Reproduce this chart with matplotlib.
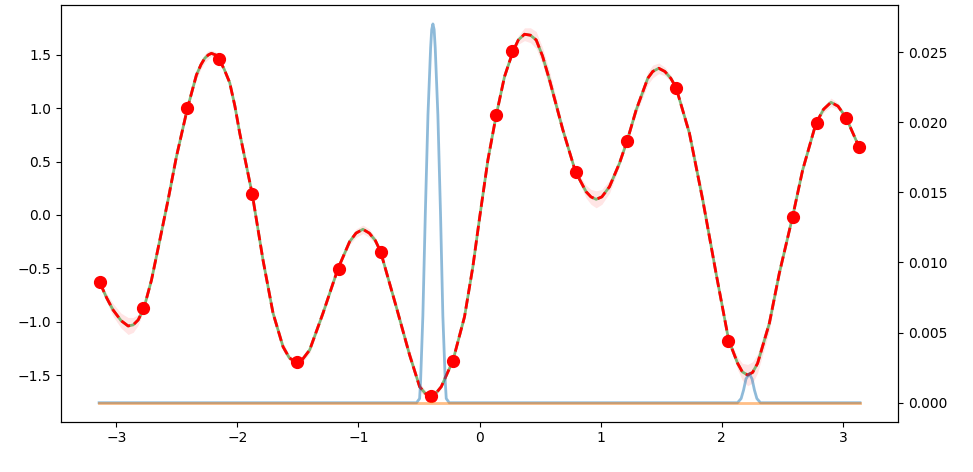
import numpy as np
import matplotlib
matplotlib.use('Agg')
import matplotlib.pyplot as plt

# observed samples
obs_x = [-3.135, -2.778, -2.412, -2.153, -1.876, -1.504, -1.163, -0.817, -0.404, -0.217,
         0.140, 0.270, 0.795, 1.221, 1.623, 2.052, 2.588, 2.786, 3.025, 3.133]
obs_y = [-0.631, -0.875, 1.000, 1.459, 0.194, -1.381, -0.506, -0.344, -1.694, -1.368,
         0.937, 1.534, 0.403, 0.696, 1.187, -1.178, -0.016, 0.862, 0.912, 0.634]

# posterior mean and band half width
mean_x = [-3.135, -3.080, -3.026, -2.960, -2.902, -2.860, -2.819, -2.772, -2.709, -2.640,
          -2.572, -2.503, -2.412, -2.338, -2.300, -2.269, -2.240, -2.214, -2.180, -2.151,
          -2.110, -2.063, -2.020, -1.980, -1.876, -1.788, -1.705, -1.623, -1.570, -1.512,
          -1.460, -1.403, -1.293, -1.169, -1.073, -1.020, -0.963, -0.910, -0.860, -0.817,
          -0.688, -0.578, -0.495, -0.450, -0.404, -0.360, -0.316, -0.220, -0.124, -0.055,
          0.000, 0.069, 0.138, 0.206, 0.275, 0.320, 0.371, 0.420, 0.468, 0.520,
          0.578, 0.688, 0.792, 0.880, 0.920, 0.963, 1.010, 1.073, 1.155, 1.219,
          1.293, 1.389, 1.430, 1.480, 1.530, 1.580, 1.623, 1.733, 1.843, 1.953,
          2.057, 2.131, 2.170, 2.214, 2.255, 2.296, 2.393, 2.475, 2.585, 2.668,
          2.778, 2.840, 2.902, 2.960, 3.025, 3.135]
mean_y = [-0.634, -0.775, -0.890, -0.990, -1.040, -1.030, -0.984, -0.875, -0.610, -0.234,
          0.141, 0.547, 1.000, 1.312, 1.410, 1.469, 1.500, 1.515, 1.500, 1.459,
          1.370, 1.240, 1.020, 0.766, 0.190, -0.422, -0.921, -1.234, -1.340, -1.380,
          -1.350, -1.265, -0.921, -0.503, -0.250, -0.170, -0.134, -0.170, -0.240, -0.344,
          -0.860, -1.310, -1.609, -1.670, -1.696, -1.670, -1.609, -1.365, -0.953, -0.484,
          -0.030, 0.516, 0.937, 1.296, 1.531, 1.640, 1.694, 1.685, 1.640, 1.490,
          1.265, 0.797, 0.406, 0.218, 0.170, 0.147, 0.170, 0.265, 0.484, 0.696,
          0.984, 1.281, 1.345, 1.375, 1.345, 1.280, 1.193, 0.766, 0.141, -0.547,
          -1.172, -1.390, -1.470, -1.500, -1.475, -1.390, -1.015, -0.547, -0.016, 0.422,
          0.859, 0.990, 1.056, 1.020, 0.916, 0.634]
band = [0.02, 0.04, 0.06, 0.07, 0.08, 0.07, 0.05, 0.02, 0.03, 0.04,
        0.05, 0.04, 0.02, 0.04, 0.04, 0.04, 0.04, 0.03, 0.03, 0.02,
        0.02, 0.03, 0.03, 0.03, 0.02, 0.03, 0.04, 0.04, 0.03, 0.02,
        0.03, 0.03, 0.03, 0.02, 0.03, 0.04, 0.04, 0.04, 0.03, 0.02,
        0.04, 0.05, 0.04, 0.03, 0.02, 0.02, 0.02, 0.02, 0.03, 0.03,
        0.03, 0.03, 0.02, 0.02, 0.02, 0.04, 0.06, 0.07, 0.08, 0.08,
        0.08, 0.05, 0.02, 0.06, 0.07, 0.08, 0.07, 0.06, 0.03, 0.02,
        0.04, 0.06, 0.06, 0.05, 0.04, 0.03, 0.02, 0.05, 0.07, 0.05,
        0.02, 0.06, 0.08, 0.10, 0.10, 0.09, 0.07, 0.05, 0.02, 0.03,
        0.02, 0.03, 0.04, 0.03, 0.02, 0.02]

# acquisition curve (right axis)
acq_x = [-3.1416, -0.52, -0.495, -0.487, -0.468, -0.448, -0.426, -0.404, -0.395, -0.385,
         -0.375, -0.366, -0.344, -0.322, -0.303, -0.283, -0.275, -0.25, 2.13, 2.16,
         2.18, 2.20, 2.228, 2.25, 2.27, 2.29, 2.32, 3.1416]
acq_y = [0.0, 0.0, 0.0003, 0.0015, 0.0062, 0.0134, 0.0205, 0.0253, 0.0266, 0.0270,
         0.0266, 0.0253, 0.0205, 0.0134, 0.0062, 0.0015, 0.0003, 0.0, 0.0, 0.0003,
         0.0009, 0.0017, 0.00207, 0.0017, 0.0009, 0.0003, 0.0, 0.0]
base_x = [-3.1416, 3.1416]
base_y = [0.0, 0.0]

mean_x = np.array(mean_x)
mean_y = np.array(mean_y)
band = np.array(band)

fig = plt.figure(figsize=(9.73, 4.72), dpi=100)
ax = fig.add_axes([0.0627, 0.1066, 0.8603, 0.8828])

ax.fill_between(mean_x, mean_y - band, mean_y + band, color='r', alpha=0.1, linewidth=0)
ax.plot(mean_x, mean_y, color='g', alpha=0.5, linewidth=2)
ax.plot(mean_x, mean_y, 'r--', linewidth=2)
ax.plot(obs_x, obs_y, 'ro', markersize=8.5)
ax.set_xlim(-3.456, 3.456)
ax.set_ylim(-1.937, 1.968)

ax2 = ax.twinx()
ax2.plot(acq_x, acq_y, color='tab:blue', alpha=0.5, linewidth=2)
ax2.plot(base_x, base_y, color='tab:orange', alpha=0.5, linewidth=2)

plt.savefig('out.png')
